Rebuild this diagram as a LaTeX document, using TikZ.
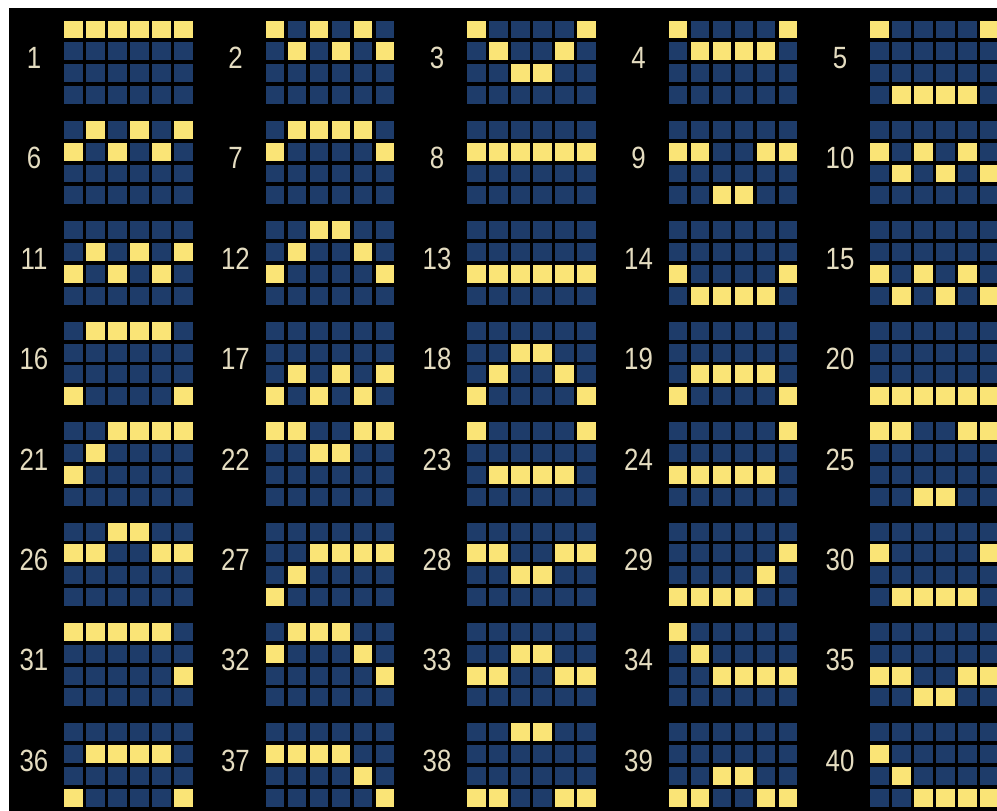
\documentclass[tikz,border=0pt]{standalone}
\usepackage{fontspec}
\setmainfont[FakeStretch=0.84]{Liberation Sans}
\usepackage{xcolor}
\usepackage{tikz}
\definecolor{cellblue}{RGB}{30,60,106}
\definecolor{cellyellow}{RGB}{250,228,118}
\definecolor{labelcream}{RGB}{228,220,192}
\begin{document}
\begin{tikzpicture}[
    x=0.02cm, y=-0.02cm,
    cell/.style={rectangle, inner sep=0pt, minimum width=0.37cm, minimum height=0.36cm, fill=cellblue},
    hit/.style={cell, fill=cellyellow},
    linelabel/.style={text=labelcream, inner sep=0pt, font=\fontsize{17.5}{17.5}\selectfont}
]
\fill[white] (0,0) rectangle (997,811);
\fill[black] (9,8) rectangle (997,811);
\useasboundingbox (0,0) rectangle (997,811);
% one pay line per entry: number / winning row of each of the 6 columns
\foreach \n/\a/\b/\c/\d/\e/\f in {
    1/0/0/0/0/0/0, 2/0/1/0/1/0/1, 3/0/1/2/2/1/0, 4/0/1/1/1/1/0, 5/0/3/3/3/3/0,
    6/1/0/1/0/1/0, 7/1/0/0/0/0/1, 8/1/1/1/1/1/1, 9/1/1/3/3/1/1, 10/1/2/1/2/1/2,
    11/2/1/2/1/2/1, 12/2/1/0/0/1/2, 13/2/2/2/2/2/2, 14/2/3/3/3/3/2, 15/2/3/2/3/2/3,
    16/3/0/0/0/0/3, 17/3/2/3/2/3/2, 18/3/2/1/1/2/3, 19/3/2/2/2/2/3, 20/3/3/3/3/3/3,
    21/2/1/0/0/0/0, 22/0/0/1/1/0/0, 23/0/2/2/2/2/0, 24/2/2/2/2/2/0, 25/0/0/3/3/0/0,
    26/1/1/0/0/1/1, 27/3/2/1/1/1/1, 28/1/1/2/2/1/1, 29/3/3/3/3/2/1, 30/1/3/3/3/3/1,
    31/0/0/0/0/0/2, 32/1/0/0/0/1/2, 33/2/2/1/1/2/2, 34/0/1/2/2/2/2, 35/2/2/3/3/2/2,
    36/3/1/1/1/1/3, 37/1/1/1/1/2/3, 38/3/3/0/0/3/3, 39/3/3/2/2/3/3, 40/1/2/3/3/3/3}{
  \pgfmathsetmacro{\gx}{64+201.5*mod(\n-1,5)}
  \pgfmathsetmacro{\gy}{20+100.4*floor((\n-1)/5)}
  \node[linelabel] (num\n) at (\gx-30,\gy+38) {\n};
  \foreach [count=\k from 0] \v in {\a,\b,\c,\d,\e,\f}{
    \foreach \r in {0,...,3}
      \node[cell] (cell\n-\k-\r) at (\gx+9.5+22*\k,\gy+9.5+21.8*\r) {};
    \node[hit] (hit\n-\k) at (\gx+9.5+22*\k,\gy+9.5+21.8*\v) {};
  }
}
\end{tikzpicture}
\end{document}
